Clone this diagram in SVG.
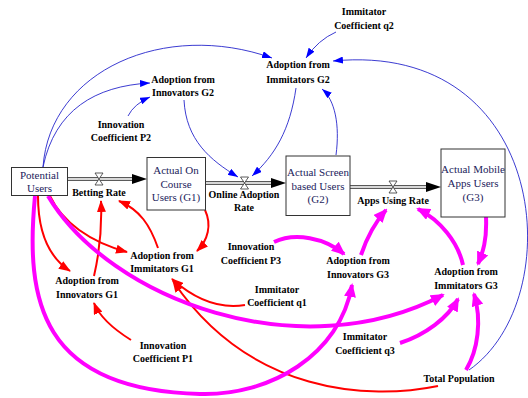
<svg xmlns="http://www.w3.org/2000/svg" width="528" height="398" viewBox="0 0 528 398">
  <style>
    text { font-family: "Liberation Serif", "DejaVu Serif", serif; }
    .stock rect { fill: #ffffff; stroke: #333333; stroke-width: 1; }
    .stock text { font-size: 11px; fill: #1c1c5c; text-anchor: middle; }
    .aux text, .flow text { font-size: 10px; font-weight: bold; fill: #000000; text-anchor: middle; }
    .pipe { stroke: #333333; stroke-width: 1; fill: none; }
    .valve { fill: #ffffff; stroke: #333333; stroke-width: 0.8; }
    .head { fill: #000000; }
    .blue { stroke: #2626cc; stroke-width: 0.9; fill: none; marker-end: url(#arrowBlue); }
    .red { stroke: #ff0000; stroke-width: 2; fill: none; marker-end: url(#arrowRed); }
    .mag { stroke: #ff00ff; stroke-width: 4; fill: none; marker-end: url(#arrowMag); }
  </style>
  <defs>
    <marker id="arrowBlue" markerUnits="userSpaceOnUse" markerWidth="10" markerHeight="7" refX="10" refY="3.5" orient="auto">
      <path d="M0,0 L10,3.5 L0,7 Z" fill="#0000ff"/>
    </marker>
    <marker id="arrowRed" markerUnits="userSpaceOnUse" markerWidth="12" markerHeight="9" refX="11" refY="4.5" orient="auto">
      <path d="M0,0 L12,4.5 L0,9 Z" fill="#ff0000"/>
    </marker>
    <marker id="arrowMag" markerUnits="userSpaceOnUse" markerWidth="14" markerHeight="12" refX="12" refY="6" orient="auto">
      <path d="M0,0 L14,6 L0,12 Z" fill="#ff00ff"/>
    </marker>
  </defs>

  <rect width="528" height="398" fill="#ffffff"/>

  <!-- influence links -->
  <g id="connectors">
    <!-- thin blue links -->
    <path class="blue" d="M43,167 C55,110 95,86 150,83"/>
    <path class="blue" d="M43,167 C50,70 165,20 272,58"/>
    <path class="blue" d="M128,116 Q134,104 150,97"/>
    <path class="blue" d="M184,100 C186,140 210,160 238,177"/>
    <path class="blue" d="M296,88 C290,130 275,155 252,176"/>
    <path class="blue" d="M336,32 Q318,40 306,58"/>
    <path class="blue" d="M336,155 C340,125 335,100 322,89"/>
    <path class="blue" d="M469,370 C570,300 550,40 333,61"/>

    <!-- red links -->
    <path class="red" d="M38,196 C38,235 50,258 70,271"/>
    <path class="red" d="M50,196 C62,222 90,242 127,252"/>
    <path class="red" d="M94,276 C100,250 102,225 101,201"/>
    <path class="red" d="M158,248 C150,225 140,210 119,201"/>
    <path class="red" d="M205,210 C212,225 208,240 197,251"/>
    <path class="red" d="M245,305 C215,310 190,295 172,279"/>
    <path class="red" d="M131,340 C115,330 100,318 94,303"/>
    <path class="red" d="M438,386 C370,400 250,395 173,281"/>

    <!-- magenta links -->
    <path class="mag" d="M35,196 C25,300 40,390 200,394 C270,396 340,355 352,285"/>
    <path class="mag" d="M48,196 C110,300 300,370 443,295"/>
    <path class="mag" d="M274,242 C295,232 325,238 344,254"/>
    <path class="mag" d="M361,255 Q370,228 386,210"/>
    <path class="mag" d="M463,265 C458,242 440,220 418,209"/>
    <path class="mag" d="M486,217 C487,240 483,252 478,264"/>
    <path class="mag" d="M400,343 C425,335 448,318 458,299"/>
    <path class="mag" d="M466,370 C478,350 482,320 474,294"/>
  </g>

  <!-- stocks -->
  <g id="potential-users" class="stock">
    <rect x="11.5" y="167.5" width="56" height="28"/>
    <text x="39.5" y="179">Potential</text>
    <text x="39.5" y="192">Users</text>
  </g>
  <g id="actual-on-course-users" class="stock">
    <rect x="147" y="157.5" width="58.5" height="52.5"/>
    <text x="176" y="174">Actual On</text>
    <text x="176" y="187.5">Course</text>
    <text x="176" y="201">Users (G1)</text>
  </g>
  <g id="actual-screen-users" class="stock">
    <rect x="286" y="156" width="64" height="59.5"/>
    <text x="318" y="176">Actual Screen</text>
    <text x="318" y="189.5">based Users</text>
    <text x="318" y="203">(G2)</text>
  </g>
  <g id="actual-mobile-users" class="stock">
    <rect x="441" y="149" width="64" height="68"/>
    <text x="473" y="173">Actual Mobile</text>
    <text x="473" y="186.5">Apps Users</text>
    <text x="473" y="200.5">(G3)</text>
  </g>

  <!-- flows -->
  <g id="betting-rate" class="flow">
    <line class="pipe" x1="67.5" y1="177.7" x2="134" y2="177.7"/>
    <line class="pipe" x1="67.5" y1="180.3" x2="134" y2="180.3"/>
    <path class="head" d="M132,174 L147,179 L132,184 Z"/>
    <path class="valve" d="M95,173 L103,173 L95,185 L103,185 Z"/>
    <text x="99" y="195.5">Betting Rate</text>
  </g>
  <g id="online-adoption-rate" class="flow">
    <line class="pipe" x1="205.5" y1="181.7" x2="273" y2="181.7"/>
    <line class="pipe" x1="205.5" y1="184.3" x2="273" y2="184.3"/>
    <path class="head" d="M271,178 L286,183 L271,188 Z"/>
    <path class="valve" d="M240.5,177 L248.5,177 L240.5,189 L248.5,189 Z"/>
    <text x="244" y="197.5">Online Adoption</text>
    <text x="244" y="211">Rate</text>
  </g>
  <g id="apps-using-rate" class="flow">
    <line class="pipe" x1="350" y1="185.7" x2="428" y2="185.7"/>
    <line class="pipe" x1="350" y1="188.3" x2="428" y2="188.3"/>
    <path class="head" d="M426,182 L441,187 L426,192 Z"/>
    <path class="valve" d="M389,181 L397,181 L389,193 L397,193 Z"/>
    <text x="393" y="203.5">Apps Using Rate</text>
  </g>

  <!-- auxiliaries -->
  <g id="imitator-coefficient-q2" class="aux">
    <text x="364" y="15">Immitator</text>
    <text x="364" y="29">Coefficient q2</text>
  </g>
  <g id="adoption-imitators-g2" class="aux">
    <text x="298" y="68">Adoption from</text>
    <text x="298" y="82.5">Immitators G2</text>
  </g>
  <g id="adoption-innovators-g2" class="aux">
    <text x="183" y="82.5">Adoption from</text>
    <text x="183" y="96">Innovators G2</text>
  </g>
  <g id="innovation-coefficient-p2" class="aux">
    <text x="121" y="127.5">Innovation</text>
    <text x="121" y="140.5">Coefficient P2</text>
  </g>
  <g id="adoption-imitators-g1" class="aux">
    <text x="162" y="259">Adoption from</text>
    <text x="162" y="272">Immitators G1</text>
  </g>
  <g id="adoption-innovators-g1" class="aux">
    <text x="87" y="284">Adoption from</text>
    <text x="87" y="297.5">Innovators G1</text>
  </g>
  <g id="innovation-coefficient-p1" class="aux">
    <text x="163" y="348.5">Innovation</text>
    <text x="163" y="362">Coefficient P1</text>
  </g>
  <g id="imitator-coefficient-q1" class="aux">
    <text x="277" y="293">Immitator</text>
    <text x="277" y="306">Coefficient q1</text>
  </g>
  <g id="innovation-coefficient-p3" class="aux">
    <text x="251" y="250">Innovation</text>
    <text x="251" y="263.5">Coefficient P3</text>
  </g>
  <g id="adoption-innovators-g3" class="aux">
    <text x="358" y="264">Adoption from</text>
    <text x="358" y="277.5">Innovators G3</text>
  </g>
  <g id="adoption-imitators-g3" class="aux">
    <text x="466" y="275">Adoption from</text>
    <text x="466" y="288.5">Immitators G3</text>
  </g>
  <g id="imitator-coefficient-q3" class="aux">
    <text x="365" y="340">Immitator</text>
    <text x="365" y="353.5">Coefficient q3</text>
  </g>
  <g id="total-population" class="aux">
    <text x="459" y="381.5">Total Population</text>
  </g>
</svg>
